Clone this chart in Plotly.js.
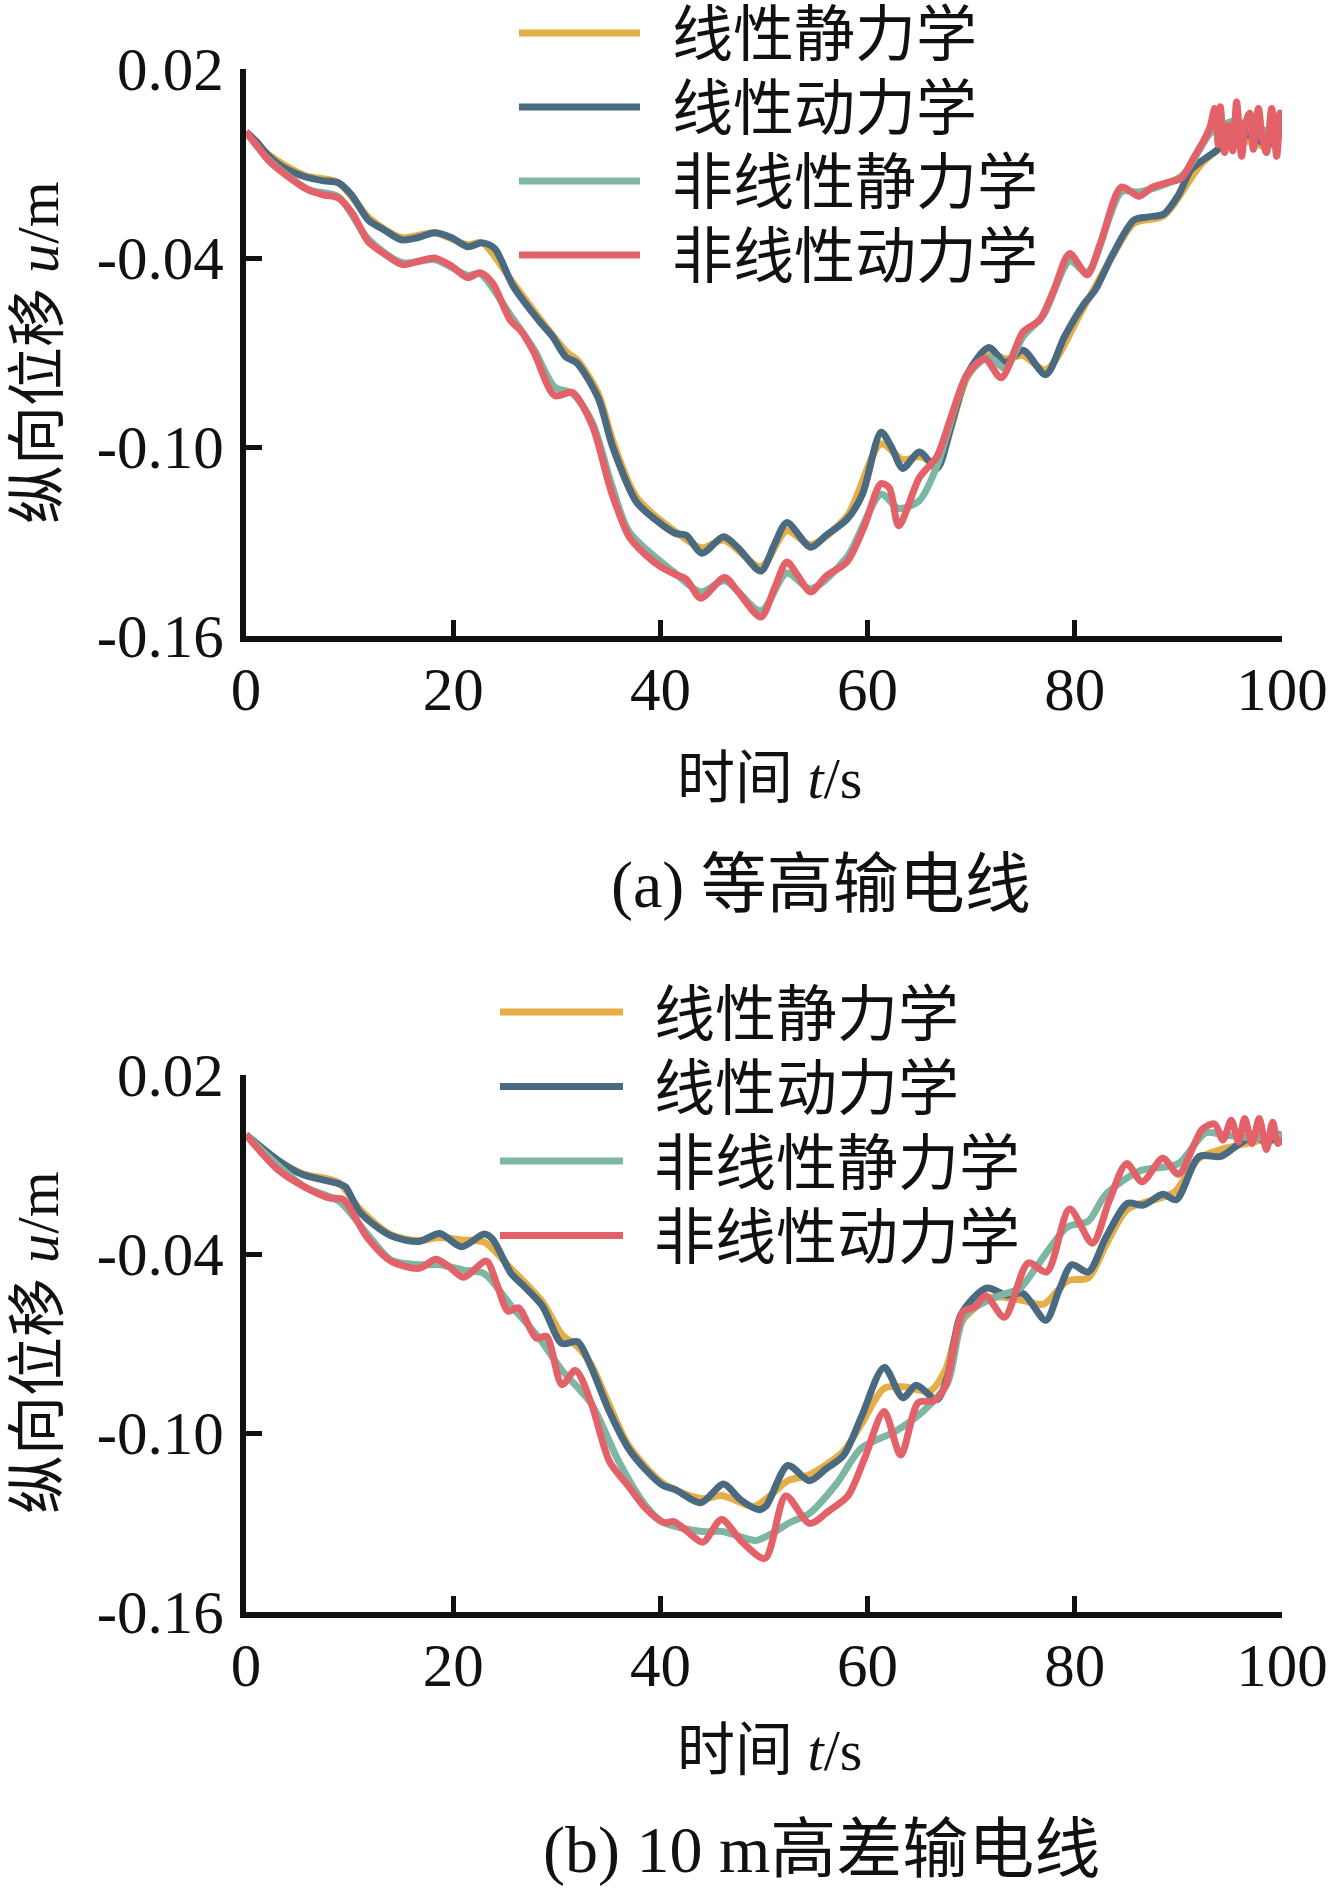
<!DOCTYPE html>
<html>
<head>
<meta charset="utf-8">
<script src="https://cdn.plot.ly/plotly-3.0.1.min.js"></script>
<style>html,body{margin:0;padding:0;background:#fff;}#chart{width:1342px;height:1894px;}</style>
</head>
<body>
<div id="chart"></div>
<script>
// ---------- data ----------
const seriesNames = ['线性静力学', '线性动力学', '非线性静力学', '非线性动力学'];
const seriesColors = ['#E6AE47', '#4A6A81', '#7DB6A2', '#E3626A'];
const xTickVals = [0, 20, 40, 60, 80, 100];
const yTickVals = [0.02, -0.04, -0.10, -0.16];
const yTickText = ['0.02', '-0.04', '-0.10', '-0.16'];

// Panel (a) equal-height line
const aLinStaticT = [0,2.1,5.7,8.9,11.8,15,18.2,21.4,22.8,25.8,28.3,31,32,34,35.4,37.7,41.5,44,46.1,49.7,52.2,54.5,58,61.3,63.4,65,66.7,69.6,71.7,73.3,75,77.2,80.8,83.7,85.7,88.6,92.4,95.7,98.6,100];
const aLinStaticU = [0,-0.007,-0.0138,-0.016,-0.027,-0.0335,-0.032,-0.0358,-0.0352,-0.048,-0.059,-0.07,-0.0725,-0.083,-0.098,-0.116,-0.127,-0.132,-0.1295,-0.138,-0.1265,-0.131,-0.122,-0.099,-0.104,-0.103,-0.105,-0.078,-0.07,-0.072,-0.071,-0.0755,-0.056,-0.039,-0.029,-0.0265,-0.0095,-0.0025,-0.0045,-0.0005];

const aLinDynT = [0,1,2.1,3.5,5.7,7.5,8.9,10.2,11.8,13.3,15,16.6,18.2,19.8,21.4,22.8,24,25.8,28.3,29.6,30.9,31.9,34,35.4,37.7,39.5,41.5,42.5,44,46.1,47.5,49.7,51,52.2,54.5,56,58,59.5,61.3,62.3,63.4,65,66.7,68,69.6,71.7,73.3,75,77.2,79,80.8,82,83.7,85.7,87,88.6,90,91.2,92.4,93.5,95.7,97,98.6,100];
const aLinDynU = [0,-0.003,-0.0073,-0.011,-0.0142,-0.0155,-0.0161,-0.02,-0.0279,-0.031,-0.0342,-0.0335,-0.032,-0.0335,-0.0364,-0.0352,-0.037,-0.049,-0.06,-0.065,-0.0715,-0.0732,-0.0845,-0.1,-0.1175,-0.123,-0.1275,-0.128,-0.1337,-0.1285,-0.132,-0.1394,-0.131,-0.124,-0.1318,-0.128,-0.123,-0.115,-0.0953,-0.1,-0.1068,-0.1016,-0.1068,-0.094,-0.077,-0.0684,-0.0732,-0.0693,-0.077,-0.065,-0.055,-0.05,-0.0386,-0.028,-0.027,-0.026,-0.02,-0.012,-0.0088,-0.0063,-0.001,-0.0012,-0.004,-0.0002];

const aNonStaticT = [0,2.1,6,8.9,11.8,15.1,18.2,21.4,22.6,25.5,27.8,29.8,31.5,33.4,35.3,37,41.4,43.9,46.2,49.7,52.2,54.5,58,61.3,63,65,66.7,69.6,71.7,73.3,75,77,79.5,81.2,84.5,86.2,90.3,93.2,95.5,97.5,100];
const aNonStaticU = [0,-0.0085,-0.0182,-0.0205,-0.034,-0.0415,-0.0405,-0.0455,-0.045,-0.058,-0.069,-0.081,-0.083,-0.092,-0.112,-0.127,-0.14,-0.146,-0.1425,-0.152,-0.14,-0.145,-0.135,-0.115,-0.1195,-0.117,-0.106,-0.0775,-0.0715,-0.075,-0.065,-0.058,-0.041,-0.0445,-0.019,-0.019,-0.014,0,0.0035,0.001,0];

const aNonDynT = [0,1,2.1,4,6,7.5,8.9,10.3,11.8,13.5,15.1,16.7,18.2,19.8,21.4,22.6,23.8,25.5,26.5,27.8,29.8,31.5,33.4,35.3,37,38.5,40,41.4,42.5,43.9,46.2,47.5,49.7,51,52.2,53.3,54.5,56,58,59.7,61.3,62.1,63,65,66.7,68,69.6,71.3,72.9,75,76.6,78,79.5,81.2,82.5,84.5,86.2,87.5,89,90.3,91.5,92.4,93.05,93.5,93.85,94.05,94.45,94.85,95.25,95.62,96.1,96.5,96.9,97.23,97.72,98.1,98.5,99,99.49,99.81,100];
const aNonDynU = [0,-0.004,-0.0088,-0.014,-0.0184,-0.02,-0.0209,-0.026,-0.0348,-0.039,-0.0421,-0.041,-0.04,-0.0425,-0.0462,-0.0447,-0.048,-0.0597,-0.063,-0.07,-0.0837,-0.0827,-0.093,-0.1146,-0.1286,-0.134,-0.138,-0.1404,-0.142,-0.148,-0.1414,-0.146,-0.154,-0.145,-0.1365,-0.141,-0.146,-0.141,-0.1365,-0.125,-0.1116,-0.113,-0.125,-0.1097,-0.103,-0.091,-0.077,-0.072,-0.078,-0.0635,-0.0597,-0.05,-0.0386,-0.0453,-0.035,-0.0175,-0.0204,-0.0175,-0.016,-0.0146,-0.008,-0.003,0.0015,0.0075,-0.004,0.008,-0.0065,0.002,-0.006,0.0095,-0.0077,0.003,0.006,-0.0055,0.0075,-0.002,-0.0065,0.0075,-0.0077,0.006,0.0006];

// Panel (b) 10 m height difference line
const bLinStaticT = [0,3,5.4,8.9,11,14,16.7,18.7,20.8,23,25.6,28.6,30.5,32,33.3,35,36.9,40.3,44,46,49,50.6,52.3,54.4,57.7,59.4,61.6,63.7,66,67.5,69,72,75,77,79.3,81.3,83,85.1,88.5,89.7,92,94.1,97.3,100];
const bLinStaticU = [0,-0.0085,-0.013,-0.016,-0.025,-0.0335,-0.0355,-0.0345,-0.0353,-0.036,-0.045,-0.056,-0.067,-0.071,-0.077,-0.09,-0.104,-0.117,-0.122,-0.121,-0.1246,-0.121,-0.116,-0.114,-0.106,-0.097,-0.085,-0.0846,-0.086,-0.079,-0.063,-0.0545,-0.0556,-0.0568,-0.049,-0.048,-0.037,-0.025,-0.021,-0.019,-0.0079,-0.005,-0.0024,0];

const bLinDynT = [0,3.06,5.4,8.9,9.6,11,14,16.7,18.7,20.8,23,23.8,25.6,26.6,28.6,30.5,32,33.3,35,36.9,38.5,40.3,41.4,43.9,46.1,47.7,49.5,50.2,52.3,54.4,56,57.7,59.4,61.6,63.4,64.7,66.7,67.8,69,71.5,73.4,75,77.2,78.5,79.7,81.3,83,85.1,86.6,88.5,89.8,92,94.1,95.9,97.3,98.6,100];
const bLinDynU = [0,-0.0085,-0.0133,-0.0164,-0.0175,-0.026,-0.0339,-0.0358,-0.0331,-0.0376,-0.0333,-0.035,-0.0466,-0.05,-0.0574,-0.07,-0.0694,-0.0778,-0.0922,-0.1051,-0.112,-0.1177,-0.1189,-0.1234,-0.1171,-0.1223,-0.1257,-0.1245,-0.1109,-0.116,-0.112,-0.1074,-0.0946,-0.078,-0.0882,-0.084,-0.0888,-0.08,-0.0604,-0.0514,-0.0538,-0.0532,-0.0622,-0.052,-0.0436,-0.046,-0.0345,-0.023,-0.0236,-0.02,-0.0218,-0.0073,-0.0073,-0.003,-0.0006,-0.0024,0.0005];

const bNonStaticT = [0,3,5.7,9,11.7,14,16.7,18.7,21,23,25.6,28.3,30.5,33.3,36,38.5,40.3,44,46,49.2,50.6,52.5,54.4,57,59.4,62.7,65.4,67.7,69.4,72.7,74.7,76.3,79.3,81.3,83,86.3,90,92.6,94.3,97.6,100];
const bNonStaticU = [0,-0.01,-0.0176,-0.0224,-0.0333,-0.042,-0.0436,-0.0436,-0.0454,-0.0466,-0.0574,-0.0682,-0.079,-0.09,-0.1097,-0.124,-0.13,-0.133,-0.133,-0.136,-0.134,-0.13,-0.1269,-0.117,-0.1051,-0.0994,-0.0926,-0.0834,-0.0605,-0.054,-0.0515,-0.0443,-0.0309,-0.029,-0.02,-0.0121,-0.0097,0.0006,0,-0.0012,0];

const bNonDynT = [0,3,5.7,8,9.4,11.7,14,16.7,18.3,19.5,21,23.2,24.2,25.3,26.3,28,29,30.5,31.8,33.3,35.1,36.9,38.5,40.3,41.3,42.6,44.1,45.9,47.9,50.1,52.1,54.4,56.3,58.1,59.7,61.6,63.2,64.9,66.4,67.5,69.2,70.4,71.4,73.2,75.5,77.3,79.5,81.7,83.3,85,86.5,88.5,90,92.3,93.5,94.3,95.1,95.8,96.4,97.1,97.8,98.5,99.1,99.6,100];
const bNonDynU = [0,-0.0115,-0.0176,-0.0212,-0.0218,-0.0345,-0.0424,-0.0448,-0.0418,-0.044,-0.0478,-0.0424,-0.05,-0.0592,-0.058,-0.0682,-0.0676,-0.0838,-0.079,-0.0898,-0.1097,-0.1177,-0.125,-0.13,-0.1297,-0.133,-0.1366,-0.129,-0.1366,-0.142,-0.1211,-0.1303,-0.126,-0.1211,-0.1086,-0.0928,-0.1074,-0.0898,-0.0892,-0.0844,-0.0594,-0.0576,-0.054,-0.0612,-0.043,-0.046,-0.0249,-0.0364,-0.0224,-0.0097,-0.0158,-0.0079,-0.0133,0.0018,0.0036,-0.0018,0.0048,-0.0024,0.0054,-0.003,0.0054,-0.005,0.0042,-0.003,-0.0012];

const panelCaptions = ['(a) 等高输电线', '(b) 10 m高差输电线'];
const xTitle = '时间 <i>t</i>/s';
const yTitle = '纵向位移 <i>u</i>/m';

// ---------- drawing ----------
const W = 1342, H = 1894;
const px = v => v / W;
const py = v => 1 - v / H;
const serif = '"Liberation Serif", "Times New Roman", "Noto Sans CJK SC", serif';
const LW = 7;

const panels = [
  { xa: 'x', ya: 'y', series: [[aLinStaticT, aLinStaticU], [aLinDynT, aLinDynU], [aNonStaticT, aNonStaticU], [aNonDynT, aNonDynU]],
    top: 69, bottom: 636, legTop: 33, legStep: 74, legX0: 519, legX1: 640, legText: 670,
    xTitleY: 778, capY: 885, yTitleY: 353 },
  { xa: 'x2', ya: 'y2', series: [[bLinStaticT, bLinStaticU], [bLinDynT, bLinDynU], [bNonStaticT, bNonStaticU], [bNonDynT, bNonDynU]],
    top: 1075, bottom: 1612, legTop: 1012, legStep: 74.5, legX0: 500, legX1: 623, legText: 652,
    xTitleY: 1750, capY: 1850, yTitleY: 1343 }
];

const traces = [];
const shapes = [];
const annotations = [];
panels.forEach((p, pi) => {
  p.series.forEach((s, si) => {
    traces.push({
      type: 'scatter', mode: 'lines', x: s[0], y: s[1], xaxis: p.xa, yaxis: p.ya,
      name: seriesNames[si], showlegend: false,
      line: { color: seriesColors[si], width: LW, shape: 'spline', smoothing: 0.8 },
      hoverinfo: 'skip'
    });
    const ly = p.legTop + si * p.legStep;
    shapes.push({ type: 'line', xref: 'paper', yref: 'paper', x0: px(p.legX0), x1: px(p.legX1), y0: py(ly), y1: py(ly),
      line: { color: seriesColors[si], width: 7 } });
    annotations.push({ xref: 'paper', yref: 'paper', x: px(p.legText), y: py(ly + 3), xanchor: 'left', yanchor: 'middle',
      text: seriesNames[si], showarrow: false, font: { family: serif, size: 61, color: '#111' } });
  });
  annotations.push({ xref: 'paper', yref: 'paper', x: px(769), y: py(p.xTitleY), xanchor: 'center', yanchor: 'middle',
    text: xTitle, showarrow: false, font: { family: serif, size: 58, color: '#111' } });
  annotations.push({ xref: 'paper', yref: 'paper', x: px(821), y: py(p.capY), xanchor: 'center', yanchor: 'middle',
    text: panelCaptions[pi], showarrow: false, font: { family: serif, size: 66, color: '#111' } });
  annotations.push({ xref: 'paper', yref: 'paper', x: px(38), y: py(p.yTitleY), xanchor: 'center', yanchor: 'middle',
    text: yTitle, textangle: -90, showarrow: false, font: { family: serif, size: 59, color: '#111' } });
});

function xAxis(anchor) {
  return { domain: [px(246), px(1282)], range: [0, 100], anchor: anchor, showline: true, linecolor: '#111', linewidth: 6,
    ticks: 'inside', ticklen: 16, tickwidth: 5, tickcolor: '#111', tickvals: xTickVals,
    tickfont: { family: serif, size: 61, color: '#111' }, showgrid: false, zeroline: false, ticklabelstandoff: -5, fixedrange: true };
}
function yAxis(anchor, top, bottom) {
  return { domain: [py(bottom), py(top)], range: [-0.16, 0.02], anchor: anchor, showline: true, linecolor: '#111', linewidth: 6,
    ticks: 'inside', ticklen: 16, tickwidth: 5, tickcolor: '#111', tickvals: yTickVals, ticktext: yTickText,
    tickfont: { family: serif, size: 61, color: '#111' }, showgrid: false, zeroline: false, ticklabelstandoff: 4, fixedrange: true };
}

const layout = {
  width: W, height: H, autosize: false,
  margin: { l: 0, r: 0, t: 0, b: 0, pad: 0 },
  paper_bgcolor: '#fff', plot_bgcolor: '#fff',
  showlegend: false,
  xaxis: xAxis('y'), yaxis: yAxis('x', panels[0].top, panels[0].bottom),
  xaxis2: xAxis('y2'), yaxis2: yAxis('x2', panels[1].top, panels[1].bottom),
  shapes: shapes, annotations: annotations
};

Plotly.newPlot('chart', traces, layout, { staticPlot: true, displayModeBar: false });
</script>
</body>
</html>
